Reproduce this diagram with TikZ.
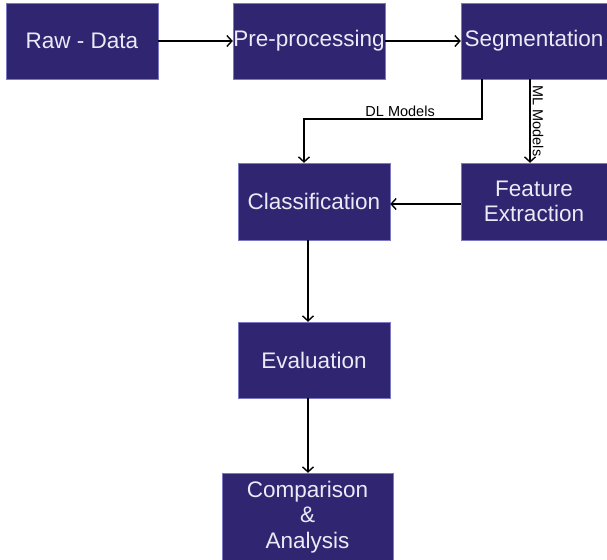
\documentclass[tikz,border=0pt]{standalone}
\usepackage{fontspec}
\setmainfont{Liberation Sans}
\usetikzlibrary{arrows.meta, positioning}
\definecolor{indigo}{RGB}{47,37,113}
\definecolor{paleline}{RGB}{125,120,195}
\definecolor{paletext}{RGB}{236,234,246}

\begin{document}
\begin{tikzpicture}[x=1pt, y=-1pt,
  stage/.style={rectangle, draw=paleline, line width=0.4pt, fill=indigo, text=paletext, minimum width=152pt, minimum height=76pt, align=center, inner sep=0pt, font=\fontsize{22.5}{25.5}\selectfont},
  flow/.style={-{Straight Barb[length=5pt, width=11pt]}, line width=1.4pt, black},
  tag/.style={font=\fontsize{14.5}{16}\selectfont, inner sep=2pt}
]
\useasboundingbox (0,0) rectangle (607,559);
\node[stage] (raw) at (82,41) {Raw - Data};
\node[stage] (pre) at (309,41) {Pre-processing};
\node[stage, minimum width=146pt] (seg) at (534,41) {Segmentation};
\node[stage, minimum height=77pt] (cls) at (314,201.5) {Classification};
\node[stage, minimum width=146pt, minimum height=77pt] (fea) at (534,201.5) {Feature\\Extraction};
\node[stage] (eva) at (314,360) {Evaluation};
\node[stage, minimum width=171pt, minimum height=88pt] (com) at (307.5,517) {Comparison\\\&\\Analysis};
\coordinate (dlturn) at (304,119);

\draw[flow] (raw) -- (pre);
\draw[flow] (pre) -- (seg);
\draw[flow] ([xshift=-52pt]seg.south) |- node[tag, above, pos=0.73] {DL Models} (dlturn) -- (dlturn |- cls.north);
\draw[flow] ([xshift=-4pt]seg.south) -- ([xshift=-4pt]fea.north) node[tag, midway, rotate=-90, anchor=south] {ML Models};
\draw[flow] ([yshift=-2.5pt]fea.west) -- ([yshift=-2.5pt]cls.east);
\draw[flow] ([xshift=-6pt]cls.south) -- ([xshift=-6pt]eva.north);
\draw[flow] ([xshift=-6pt]eva.south) -- ([xshift=-6pt]eva.south |- com.north);
\end{tikzpicture}
\end{document}
